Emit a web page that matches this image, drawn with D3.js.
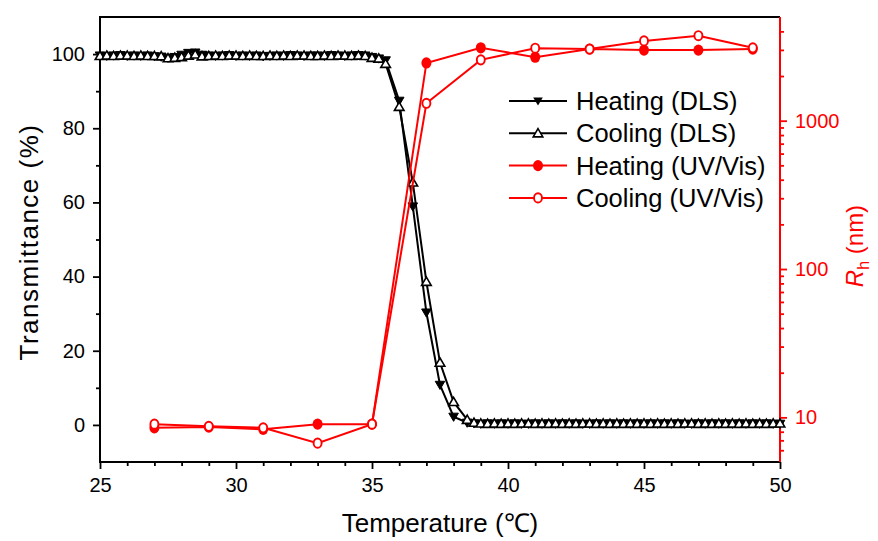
<!DOCTYPE html>
<html>
<head>
<meta charset="utf-8">
<script src="https://cdn.jsdelivr.net/npm/d3@7"></script>
<style>
  body { margin: 0; background: #fff; }
  svg { font-family: Arial, "Liberation Sans", sans-serif; }
</style>
</head>
<body>
<svg width="878" height="541"></svg>
<script>
// temperature grid of the transmittance runs (black)
var tempT = [
  25, 25.25, 25.5, 25.75, 26, 26.25, 26.5, 26.75, 27, 27.25, 27.5, 27.75,
  28, 28.25, 28.5, 28.75, 29, 29.25, 29.5, 29.75, 30, 30.25, 30.5, 30.75,
  31, 31.25, 31.5, 31.75, 32, 32.25, 32.5, 32.75, 33, 33.25, 33.5, 33.75,
  34, 34.25, 34.5, 34.75, 35, 35.25,
  35.5, 36, 36.5, 37, 37.5, 38, 38.5,
  38.75, 39, 39.25, 39.5, 39.75, 40, 40.25, 40.5, 40.75, 41, 41.25, 41.5, 41.75,
  42, 42.25, 42.5, 42.75, 43, 43.25, 43.5, 43.75, 44, 44.25, 44.5, 44.75,
  45, 45.25, 45.5, 45.75, 46, 46.25, 46.5, 46.75, 47, 47.25, 47.5, 47.75,
  48, 48.25, 48.5, 48.75, 49, 49.25, 49.5, 49.75, 50
];
var heatT = [
  99.6, 99.5, 99.6, 99.7, 99.5, 99.6, 99.5, 99.6, 99.4, 99.3, 99.0, 99.2,
  99.8, 100.3, 100.4, 99.8, 99.6, 99.5, 99.6, 99.7, 99.5, 99.6, 99.5, 99.6,
  99.4, 99.5, 99.6, 99.5, 99.7, 99.6, 99.5, 99.6, 99.6, 99.5, 99.7, 99.6,
  99.5, 99.6, 99.7, 99.6, 99.2, 98.8,
  98.3, 87.4, 58.9, 30.3, 10.8, 2.2, 0.6,
  0.4, 0.3, 0.4, 0.3, 0.4, 0.3, 0.4, 0.3, 0.3, 0.4, 0.3, 0.4, 0.3,
  0.4, 0.3, 0.4, 0.3, 0.3, 0.4, 0.3, 0.4, 0.3, 0.4, 0.3, 0.4,
  0.3, 0.4, 0.3, 0.4, 0.3, 0.4, 0.3, 0.3, 0.4, 0.3, 0.4, 0.3,
  0.4, 0.3, 0.4, 0.3, 0.4, 0.3, 0.4, 0.3, 0.3
];
var coolT = [
  99.5, 99.6, 99.5, 99.6, 99.6, 99.5, 99.6, 99.5, 99.5, 99.4, 98.9, 99.0,
  99.2, 99.6, 99.9, 99.4, 99.5, 99.6, 99.5, 99.6, 99.6, 99.5, 99.6, 99.5,
  99.5, 99.6, 99.5, 99.6, 99.5, 99.6, 99.6, 99.5, 99.5, 99.6, 99.5, 99.6,
  99.6, 99.5, 99.6, 99.5, 99.0, 98.8,
  97.4, 85.8, 65.4, 38.6, 16.8, 6.2, 1.4,
  0.6, 0.4, 0.3, 0.4, 0.3, 0.4, 0.3, 0.4, 0.4, 0.3, 0.4, 0.3, 0.4,
  0.3, 0.4, 0.3, 0.4, 0.4, 0.3, 0.4, 0.3, 0.4, 0.3, 0.4, 0.3,
  0.4, 0.3, 0.4, 0.3, 0.4, 0.3, 0.4, 0.4, 0.3, 0.4, 0.3, 0.4,
  0.3, 0.4, 0.3, 0.4, 0.3, 0.4, 0.3, 0.4, 0.4
];

// hydrodynamic radius runs (red), nm
var tempR = [27, 29, 31, 33, 35, 37, 39, 41, 43, 45, 47, 49];
var heatR = [8.5, 8.6, 8.3, 9.0, 9.0, 2450, 3100, 2680, 3040, 2990, 2990, 3040];
var coolR = [9.0, 8.7, 8.5, 6.7, 9.0, 1310, 2570, 3080, 3040, 3450, 3740, 3100];

var xTicks = [25, 30, 35, 40, 45, 50];
var yTicks = [0, 20, 40, 60, 80, 100];
var rTicks = [10, 100, 1000];

var legendLabels = ['Heating (DLS)', 'Cooling (DLS)', 'Heating (UV/Vis)', 'Cooling (UV/Vis)'];

var svg = d3.select('svg'),
    pLeft = 100, pRight = 780, pTop = 17, pBottom = 462;

var x = d3.scaleLinear().domain([25, 50]).range([pLeft, pRight]);
var y = d3.scaleLinear().domain([-10, 110]).range([pBottom, pTop]);
var yr = d3.scaleLog().domain([5, 5000]).range([pBottom, pTop]);

var red = '#ff0000';

// minor tick lists
var xMinor = d3.range(26, 50).filter(function(d) { return d % 5 !== 0; });
var yMinor = [10, 30, 50, 70, 90];
var rMinor = [6, 7, 8, 9, 20, 30, 40, 50, 60, 70, 80, 90,
              200, 300, 400, 500, 600, 700, 800, 900, 2000, 3000, 4000];

function styleAxis(g, color, size) {
  g.select('.domain').remove();
  g.selectAll('.tick line').attr('stroke', color).attr('stroke-width', 1.8);
  g.selectAll('.tick text').attr('fill', color).style('font-size', size + 'px');
}

// bottom axis
svg.append('g').attr('transform', 'translate(0,' + pBottom + ')')
    .call(d3.axisBottom(x).tickValues(xMinor).tickSize(4).tickFormat(''))
    .call(styleAxis, '#000', 20);
svg.append('g').attr('transform', 'translate(0,' + pBottom + ')')
    .call(d3.axisBottom(x).tickValues(xTicks).tickSize(7).tickPadding(9))
    .call(styleAxis, '#000', 20);

// left axis
svg.append('g').attr('transform', 'translate(' + pLeft + ',0)')
    .call(d3.axisLeft(y).tickValues(yMinor).tickSize(4).tickFormat(''))
    .call(styleAxis, '#000', 20);
svg.append('g').attr('transform', 'translate(' + pLeft + ',0)')
    .call(d3.axisLeft(y).tickValues(yTicks).tickSize(7).tickPadding(8))
    .call(styleAxis, '#000', 20);

// right axis (log)
svg.append('g').attr('transform', 'translate(' + pRight + ',0)')
    .call(d3.axisRight(yr).tickValues(rMinor).tickSize(4).tickFormat(''))
    .call(styleAxis, red, 20);
svg.append('g').attr('transform', 'translate(' + pRight + ',0)')
    .call(d3.axisRight(yr).tickValues(rTicks).tickSize(7).tickPadding(8).tickFormat(d3.format('d')))
    .call(styleAxis, red, 20);

// frame
svg.append('path').attr('fill', 'none').attr('stroke', '#000').attr('stroke-width', 2)
    .attr('d', 'M' + pRight + ',' + pTop + 'H' + pLeft + 'V' + pBottom + 'H' + pRight);
svg.append('line').attr('stroke', red).attr('stroke-width', 2)
    .attr('x1', pRight).attr('x2', pRight).attr('y1', pTop).attr('y2', pBottom);

// axis titles
svg.append('text').attr('x', 440).attr('y', 532).attr('text-anchor', 'middle')
    .style('font-size', '26px').text('Temperature (\u2103)');
svg.append('text').attr('transform', 'translate(38,242) rotate(-90)').attr('text-anchor', 'middle')
    .style('font-size', '26px').style('letter-spacing', '1.5px').text('Transmittance (%)');
var rt = svg.append('text').attr('transform', 'translate(863,246) rotate(-90)').attr('text-anchor', 'middle')
    .attr('fill', red).style('font-size', '24px');
rt.append('tspan').style('font-style', 'italic').text('R');
rt.append('tspan').attr('dy', 6).style('font-size', '16px').text('h');
rt.append('tspan').attr('dy', -6).text(' (nm)');

// markers
var triUp = 'M0,-4.6L4.8,3.6L-4.8,3.6Z';
var triDown = 'M0,4.6L4.8,-3.6L-4.8,-3.6Z';

var line = d3.line();

function drawSeries(ts, vs, scale, color) {
  svg.append('path').attr('fill', 'none').attr('stroke', color).attr('stroke-width', 2)
      .attr('d', line(ts.map(function(t, i) { return [x(t), scale(vs[i])]; })));
}

drawSeries(tempT, heatT, y, '#000');
drawSeries(tempT, coolT, y, '#000');

svg.append('g').selectAll('path').data(tempT).enter().append('path')
    .attr('d', triDown)
    .attr('transform', function(t, i) { return 'translate(' + x(t) + ',' + y(heatT[i]) + ')'; })
    .attr('fill', '#000').attr('stroke', '#000').attr('stroke-width', 1);
svg.append('g').selectAll('path').data(tempT).enter().append('path')
    .attr('d', triUp)
    .attr('transform', function(t, i) { return 'translate(' + x(t) + ',' + y(coolT[i]) + ')'; })
    .attr('fill', '#fff').attr('stroke', '#000').attr('stroke-width', 1.6);

drawSeries(tempR, heatR, yr, red);
drawSeries(tempR, coolR, yr, red);

svg.append('g').selectAll('ellipse').data(tempR).enter().append('ellipse')
    .attr('cx', function(t) { return x(t); })
    .attr('cy', function(t, i) { return yr(heatR[i]); })
    .attr('rx', 5).attr('ry', 5.6)
    .attr('fill', red);
svg.append('g').selectAll('ellipse').data(tempR).enter().append('ellipse')
    .attr('cx', function(t) { return x(t); })
    .attr('cy', function(t, i) { return yr(coolR[i]); })
    .attr('rx', 4).attr('ry', 4.6)
    .attr('fill', '#fff').attr('stroke', red).attr('stroke-width', 1.9);

// legend
var legend = svg.append('g').attr('transform', 'translate(509,101)');
legendLabels.forEach(function(label, i) {
  var color = i < 2 ? '#000' : red;
  var row = legend.append('g').attr('transform', 'translate(0,' + (i * 32.3) + ')');
  row.append('line').attr('x1', 0).attr('x2', 58).attr('stroke', color).attr('stroke-width', 2);
  if (i === 0) row.append('path').attr('d', triDown).attr('transform', 'translate(29,0)').attr('fill', '#000');
  if (i === 1) row.append('path').attr('d', triUp).attr('transform', 'translate(29,0)')
      .attr('fill', '#fff').attr('stroke', '#000').attr('stroke-width', 1.6);
  if (i === 2) row.append('ellipse').attr('cx', 29).attr('rx', 5).attr('ry', 5.6).attr('fill', red);
  if (i === 3) row.append('ellipse').attr('cx', 29).attr('rx', 4).attr('ry', 4.6)
      .attr('fill', '#fff').attr('stroke', red).attr('stroke-width', 1.9);
  row.append('text').attr('x', 67).attr('y', 9).style('font-size', '25.5px').text(label);
});
</script>
</body>
</html>
